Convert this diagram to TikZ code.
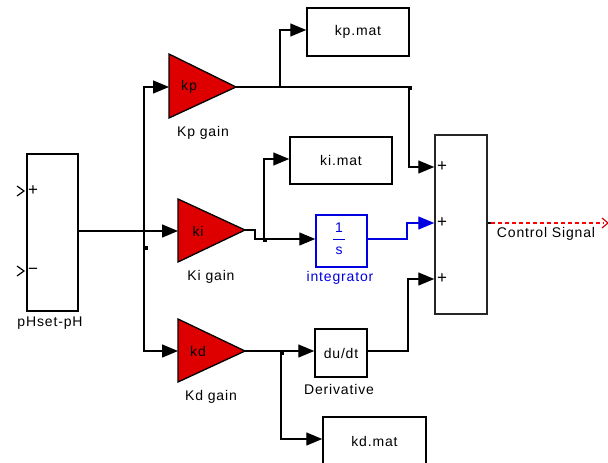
\documentclass[tikz,border=0pt]{standalone}
\usepackage{fontspec}
\setmainfont{Liberation Sans}[LetterSpace=6]
\usetikzlibrary{arrows.meta}
\newcommand\dfont{\fontsize{14}{16}\selectfont}
\newcommand\pfont{\fontsize{17}{18}\selectfont}
\definecolor{gainred}{RGB}{222,0,0}
\definecolor{simblue}{RGB}{0,0,225}
\tikzset{
  wire/.style={line width=1.4pt},
  sig/.style={wire,-{Triangle[length=16pt,width=13pt]}},
  blk/.style={draw,line width=1.5pt,fill=white,inner sep=0pt,font=\dfont},
  gain/.style={fill=gainred,draw=black,line width=1.3pt},
  lbl/.style={font=\dfont,inner sep=0pt},
  plbl/.style={font=\pfont,inner sep=0pt},
  bdot/.style={fill,minimum size=4pt,inner sep=0pt},
  chev/.style={line width=1.2pt}
}
\begin{document}
\begin{tikzpicture}[x=1pt,y=-1pt]
\useasboundingbox (0,0) rectangle (608,463);
\clip (0,0) rectangle (608,463);
% blocks
\node[blk,minimum width=51pt,minimum height=157pt] (ph) at (52.5,232.5) {};
\node[blk,minimum width=102pt,minimum height=48pt] (kpmat) at (358,32) {kp.mat};
\node[blk,minimum width=102pt,minimum height=47pt] (kimat) at (341,160.5) {ki.mat};
\node[blk,draw=simblue,minimum width=51pt,minimum height=52pt] (integ) at (341.5,241) {};
\node[blk,minimum width=52pt,minimum height=48pt] (deriv) at (341,353) {du/dt};
\node[blk,minimum width=103pt,minimum height=49pt] (kdmat) at (374.5,441.5) {kd.mat};
\node[blk,draw=black!85,minimum width=52pt,minimum height=179pt] (sum) at (461,224.5) {};
% integrator contents
\node[lbl,text=simblue] (one) at (339,228) {1};
\node[lbl,text=simblue] (ess) at (339,251) {s};
\draw[simblue,line width=1.3pt] (333,239.5) -- (345,239.5);
% gain triangles
\coordinate (kpin) at (169,87); \coordinate (kpout) at (236,87);
\coordinate (kiin) at (178,231); \coordinate (kiout) at (245,230);
\coordinate (kdin) at (178,351); \coordinate (kdout) at (245,351);
\filldraw[gain] (169,54) -- (236,87) -- (169,118) -- cycle;
\filldraw[gain] (178,199) -- (245,230) -- (178,262) -- cycle;
\filldraw[gain] (178,319) -- (245,351) -- (178,382) -- cycle;
\node[lbl] (kpt) at (189,87) {kp};
\node[lbl] (kit) at (198,231) {ki};
\node[lbl] (kdt) at (198,351) {kd};
% labels
\node[lbl] (kpl) at (203,133) {Kp gain};
\node[lbl] (kil) at (211,277) {Ki gain};
\node[lbl] (kdl) at (211,397) {Kd gain};
\node[lbl,text=simblue] (intl) at (340,278) {integrator};
\node[lbl] (derl) at (339,389) {Derivative};
\node[lbl] (phl) at (50,323) {pHset-pH};
\node[lbl] (csl) at (546,234) {Control Signal};
% port signs
\node[plbl] (pp) at (33,191) {+};
\node[plbl] (pm) at (33,271) {−};
\node[plbl] (s1) at (442,167) {+};
\node[plbl] (s2) at (442,223) {+};
\node[plbl] (s3) at (442,279) {+};
\draw[chev] (17,186) -- (24,191) -- (17,196);
\draw[chev] (17,266) -- (24,271) -- (17,276);
% connectors
\coordinate (bus) at (144,231);
\draw[sig] (ph.east |- bus) -- (kiin);
\draw[sig] (bus) -- (144,87) -- (kpin);
\draw[sig] (bus) -- (144,351) -- (kdin);
\node[bdot] (d0) at (146,248) {};
% Kp path
\draw[sig] (kpout) -- (409,87) -- (409,167) -- (sum.west |- 0,167);
\draw[sig] (280,87) -- (280,30) -- (kpmat.west |- 0,30);
\node[bdot] (d1) at (410,88) {};
% Ki path
\draw[sig] (kiout) -- (255,230) -- (255,239) -- (integ.west |- 0,239);
\draw[sig] (264,239) -- (264,159) -- (kimat.west |- 0,159);
\node[bdot] (d2) at (265,240) {};
\draw[sig,simblue] (integ.east |- 0,239) -- (407,239) -- (407,223) -- (sum.west |- 0,223);
% Kd path
\draw[sig] (kdout) -- (deriv.west |- kdout);
\draw[sig] (281,351) -- (281,439) -- (kdmat.west |- 0,439);
\node[bdot] (d3) at (282,353) {};
\draw[sig] (deriv.east |- 0,351) -- (408,351) -- (408,279) -- (sum.west |- 0,279);
% output
\coordinate (outend) at (604,223);
\draw[wire] (sum.east |- 0,223) -- (491,223);
\draw[wire,red,dash pattern=on 4pt off 3pt] (491,223) -- (outend);
\draw[chev,red!80!black] (602,218) -- (608,223) -- (602,228);
\end{tikzpicture}
\end{document}
